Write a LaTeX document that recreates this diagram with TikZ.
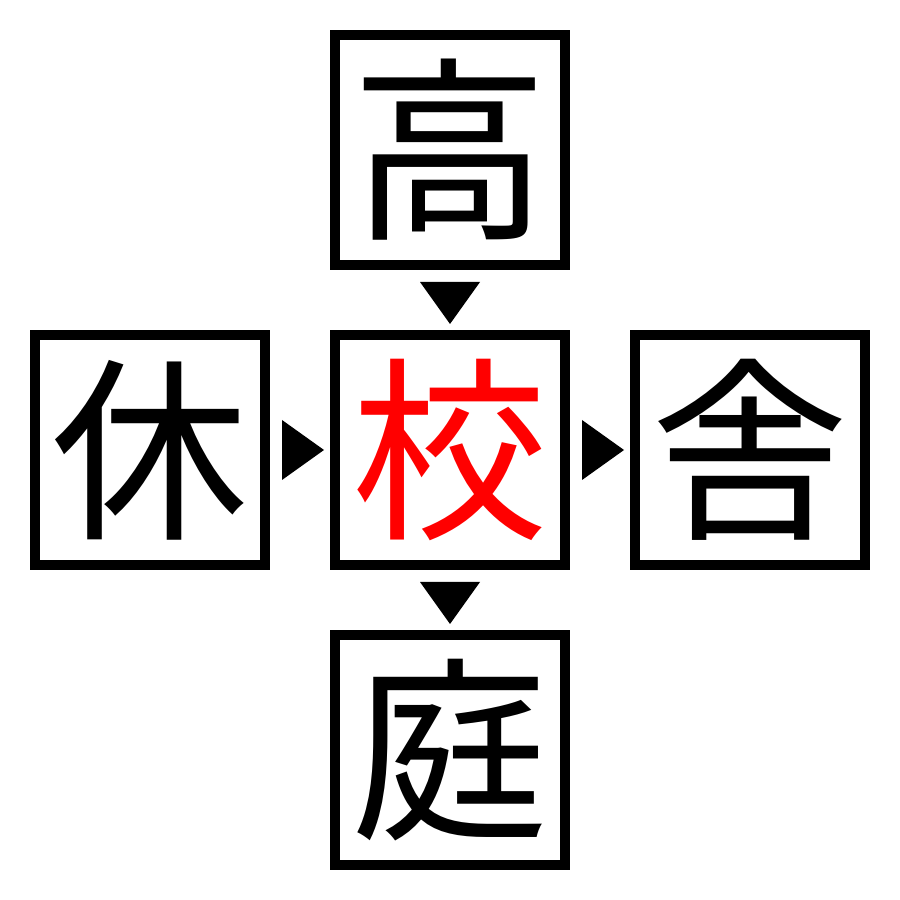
\documentclass[tikz,border=0pt]{standalone}
\usepackage{fontspec}
\newfontfamily\cjk{Noto Sans CJK JP}
\usetikzlibrary{positioning}
\definecolor{kanjired}{RGB}{255,0,0}

\begin{document}
\begin{tikzpicture}

      \useasboundingbox (0,0) rectangle (9,9);

      \begin{scope}[every node/.style={draw,line width=0.1cm,minimum size=2.3cm,inner sep=0pt,
          font=\cjk\fontsize{56}{56}\selectfont}]
        \node (mid) at (4.5,4.5) {\textcolor{kanjired}{校}};
        \node (top)    [above=0.6cm of mid] {高};
        \node (left)   [left=0.6cm of mid]  {休};
        \node (right)  [right=0.6cm of mid] {舎};
        \node (bottom) [below=0.6cm of mid] {庭};
      \end{scope}

      % markers between the boxes
      \path (top.south)  -- (mid.north)    coordinate[midway] (m1);
      \path (mid.south)  -- (bottom.north) coordinate[midway] (m2);
      \path (left.east)  -- (mid.west)     coordinate[midway] (m3);
      \path (mid.east)   -- (right.west)   coordinate[midway] (m4);

      \fill (m1) ++(-0.3,0.18) -- ++(0.6,0) -- ++(-0.3,-0.42) -- cycle;
      \fill (m2) ++(-0.3,0.18) -- ++(0.6,0) -- ++(-0.3,-0.42) -- cycle;
      \fill (m3) ++(-0.18,0.3) -- ++(0,-0.6) -- ++(0.42,0.3) -- cycle;
      \fill (m4) ++(-0.18,0.3) -- ++(0,-0.6) -- ++(0.42,0.3) -- cycle;

    \end{tikzpicture}
\end{document}
